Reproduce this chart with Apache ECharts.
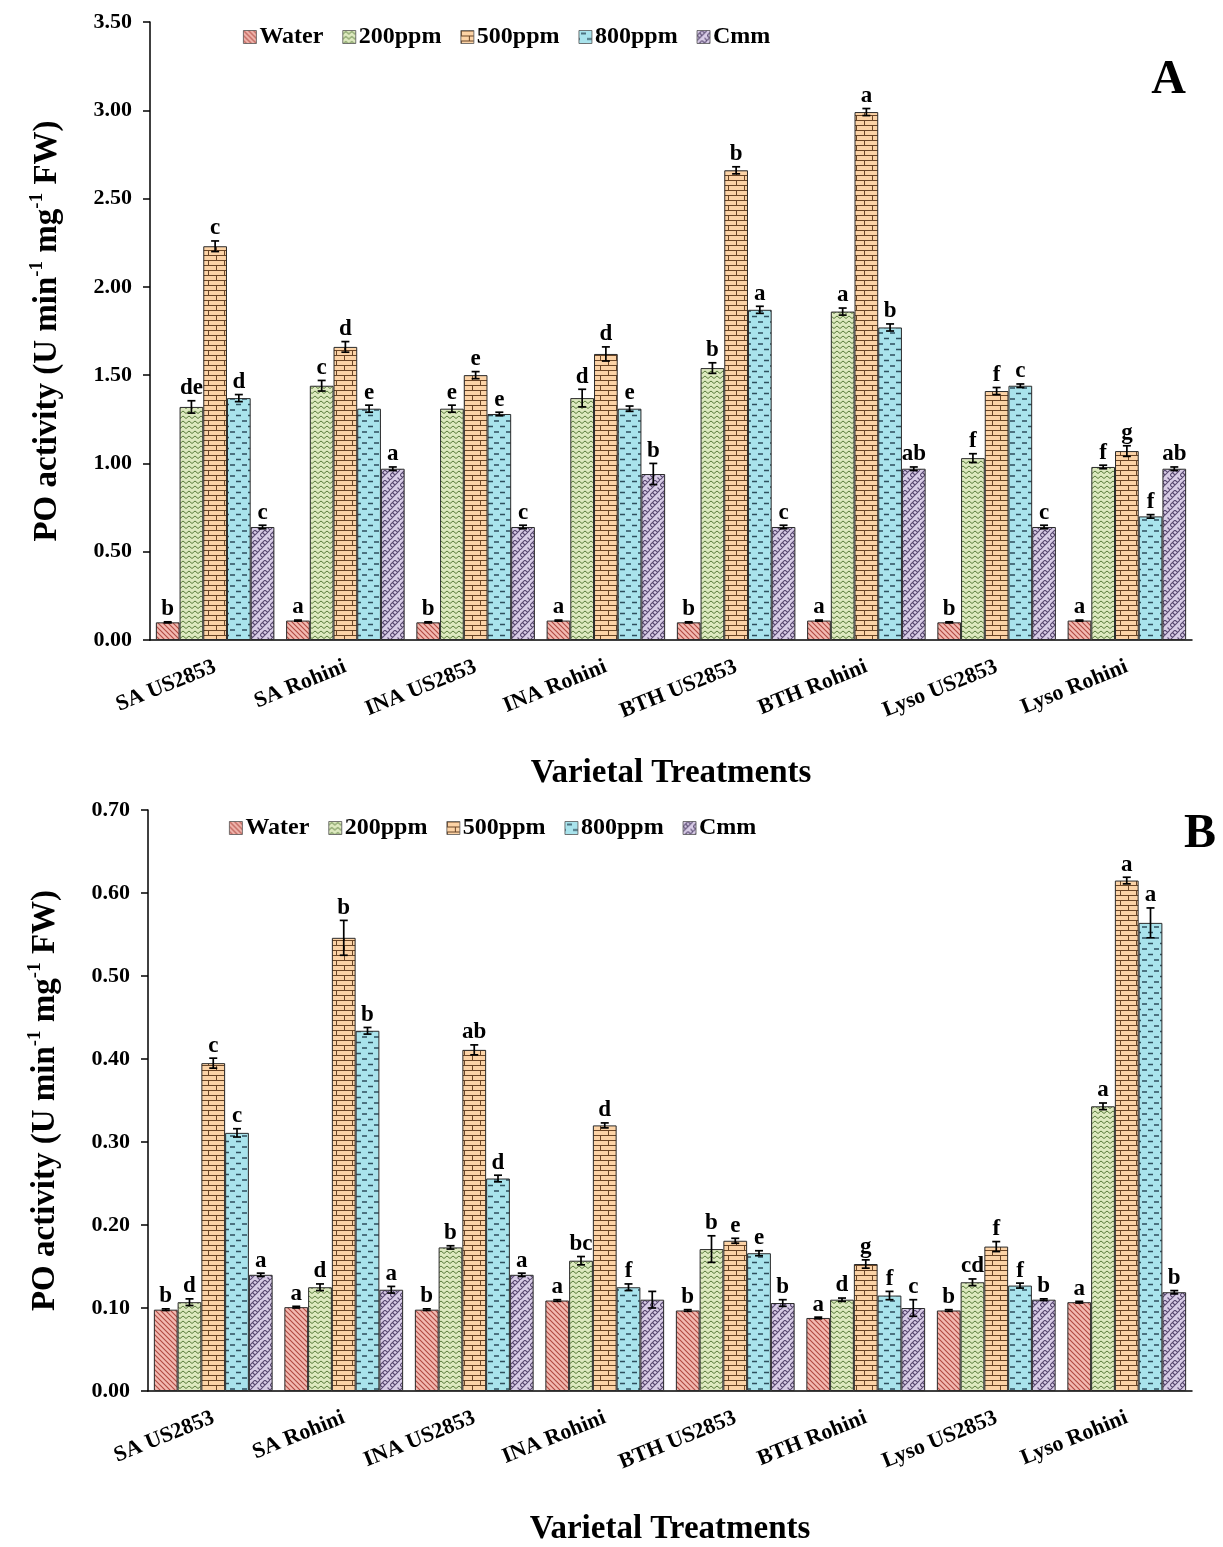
<!DOCTYPE html>
<html>
<head>
<meta charset="utf-8">
<script src="https://cdn.jsdelivr.net/npm/echarts@6/dist/echarts.min.js"></script>
<style>html,body{margin:0;padding:0;background:#fff}#c{width:1223px;height:1547px}</style>
</head>
<body>
<div id="c"></div>
<script>
const categories = ['SA US2853','SA Rohini','INA US2853','INA Rohini','BTH US2853','BTH Rohini','Lyso US2853','Lyso Rohini'];
const treatments = ['Water','200ppm','500ppm','800ppm','Cmm'];
const yTicksA = [0,3.5,0.5];
const yTicksB = [0,0.7,0.1];

// Panel A values
const A_water  = [0.10,0.11,0.10,0.11,0.10,0.11,0.10,0.11];
const A_200    = [1.32,1.44,1.31,1.37,1.54,1.86,1.03,0.98];
const A_500    = [2.23,1.66,1.50,1.62,2.66,2.99,1.41,1.07];
const A_800    = [1.37,1.31,1.28,1.31,1.87,1.77,1.44,0.70];
const A_cmm    = [0.64,0.97,0.64,0.94,0.64,0.97,0.64,0.97];
const A_water_err = [0.003,0.003,0.003,0.003,0.003,0.003,0.003,0.003];
const A_200_err   = [0.035,0.03,0.02,0.05,0.03,0.02,0.025,0.01];
const A_500_err   = [0.03,0.03,0.02,0.04,0.02,0.02,0.02,0.03];
const A_800_err   = [0.02,0.02,0.01,0.015,0.02,0.02,0.01,0.01];
const A_cmm_err   = [0.01,0.01,0.01,0.06,0.01,0.01,0.01,0.01];
const A_water_let = ['b','a','b','a','b','a','b','a'];
const A_200_let   = ['de','c','e','d','b','a','f','f'];
const A_500_let   = ['c','d','e','d','b','a','f','g'];
const A_800_let   = ['d','e','e','e','a','b','c','f'];
const A_cmm_let   = ['c','a','c','b','c','ab','c','ab'];

// Panel B values
const B_water  = [0.098,0.101,0.098,0.109,0.097,0.088,0.097,0.107];
const B_200    = [0.107,0.125,0.173,0.157,0.171,0.110,0.131,0.343];
const B_500    = [0.395,0.546,0.411,0.320,0.181,0.153,0.174,0.615];
const B_800    = [0.311,0.434,0.256,0.125,0.166,0.115,0.127,0.564];
const B_cmm    = [0.140,0.122,0.140,0.110,0.106,0.100,0.110,0.119];
const B_water_err = [0.001,0.001,0.001,0.001,0.001,0.001,0.001,0.001];
const B_200_err   = [0.004,0.004,0.002,0.005,0.016,0.002,0.004,0.004];
const B_500_err   = [0.006,0.021,0.006,0.003,0.003,0.005,0.006,0.004];
const B_800_err   = [0.005,0.004,0.004,0.004,0.003,0.005,0.003,0.018];
const B_cmm_err   = [0.002,0.004,0.002,0.010,0.004,0.010,0.001,0.002];
const B_water_let = ['b','a','b','a','b','a','b','a'];
const B_200_let   = ['d','d','b','bc','b','d','cd','a'];
const B_500_let   = ['c','b','ab','d','e','g','f','a'];
const B_800_let   = ['c','b','d','f','e','f','f','a'];
const B_cmm_let   = ['a','a','a','','b','c','b','b'];

const FONT = '"Liberation Serif","Times New Roman",serif';

function pat(fill, w, h, draw) {
  const c = document.createElement('canvas');
  c.width = w; c.height = h;
  const x = c.getContext('2d');
  x.fillStyle = fill; x.fillRect(0,0,w,h);
  draw(x);
  return {image: c, repeat: 'repeat'};
}
const patterns = [
  pat('#f3b9b1', 5, 5, x => { x.strokeStyle='#b04a42'; x.lineWidth=1.1;
    x.beginPath(); x.moveTo(-1,-1); x.lineTo(6,6); x.moveTo(-1,4); x.lineTo(1,6); x.moveTo(4,-1); x.lineTo(6,1); x.stroke(); }),
  pat('#dde9bf', 6, 5, x => { x.strokeStyle='#5a7c3c'; x.lineWidth=1;
    x.beginPath(); x.moveTo(0,3.5); x.lineTo(3,1); x.lineTo(6,3.5); x.stroke(); }),
  pat('#fcd3a6', 16, 10, x => { x.strokeStyle='#6a4526'; x.lineWidth=1;
    x.beginPath(); x.moveTo(0,0.5); x.lineTo(16,0.5); x.moveTo(0,5.5); x.lineTo(16,5.5);
    x.moveTo(0.5,0); x.lineTo(0.5,5.5); x.moveTo(8.5,5.5); x.lineTo(8.5,10); x.stroke(); }),
  pat('#a9e3ec', 12, 11, x => { x.strokeStyle='#2e4e5c'; x.lineWidth=1.4;
    x.beginPath(); x.moveTo(2,3); x.lineTo(7,3); x.moveTo(8,8.5); x.lineTo(12,8.5); x.moveTo(0,8.5); x.lineTo(1,8.5); x.stroke(); }),
  pat('#d8cce6', 10, 10, x => { x.strokeStyle='#5a4a72'; x.lineWidth=1.1;
    x.beginPath();
    x.moveTo(-1,11); x.lineTo(11,-1);
    x.moveTo(-1,6); x.lineTo(6,-1);
    x.moveTo(4,16); x.lineTo(16,4);
    x.moveTo(2.5,2.5); x.lineTo(5,5);
    x.moveTo(7.5,7.5); x.lineTo(10,10);
    x.moveTo(0,5); x.lineTo(2.5,7.5);
    x.moveTo(5,0); x.lineTo(7.5,2.5);
    x.stroke(); })
];

const A_vals = [A_water,A_200,A_500,A_800,A_cmm];
const A_errs = [A_water_err,A_200_err,A_500_err,A_800_err,A_cmm_err];
const A_lets = [A_water_let,A_200_let,A_500_let,A_800_let,A_cmm_let];
const B_vals = [B_water,B_200,B_500,B_800,B_cmm];
const B_errs = [B_water_err,B_200_err,B_500_err,B_800_err,B_cmm_err];
const B_lets = [B_water_let,B_200_let,B_500_let,B_800_let,B_cmm_let];

const GAP = 0.09;
const series = [];
function addPanel(idx, vals, errs, lets) {
  treatments.forEach((t, k) => {
    series.push({
      type: 'bar', name: t, xAxisIndex: idx, yAxisIndex: idx,
      data: vals[k], barGap: '0%', barCategoryGap: (GAP*100)+'%',
      itemStyle: {color: patterns[k], borderColor: '#2a2a2a', borderWidth: 1},
      emphasis: {disabled: true}, animation: false
    });
  });
  treatments.forEach((t, k) => {
    series.push({
      type: 'custom', name: 'err' + idx + k, xAxisIndex: idx, yAxisIndex: idx,
      data: vals[k].map((v, i) => [i, v, errs[k][i]]),
      z: 5, animation: false, silent: true,
      renderItem: function (params, api) {
        const i = api.value(0), v = api.value(1), e = api.value(2);
        const band = api.size([1, 0])[0];
        const bw = band * (1 - GAP) / 5;
        const off = (k - 2) * bw;
        const c = api.coord([i, v]);
        const top = api.coord([i, v + e]);
        const bot = api.coord([i, v - e]);
        const x = c[0] + off;
        const cap = 4;
        const lw = 1.7;
        const children = [
          {type: 'line', shape: {x1: x, y1: top[1], x2: x, y2: bot[1]}, style: {stroke: '#000', lineWidth: lw}},
          {type: 'line', shape: {x1: x - cap, y1: top[1], x2: x + cap, y2: top[1]}, style: {stroke: '#000', lineWidth: lw}},
          {type: 'line', shape: {x1: x - cap, y1: bot[1], x2: x + cap, y2: bot[1]}, style: {stroke: '#000', lineWidth: lw}},
          {type: 'text', style: {text: lets[k][params.dataIndex], x: x, y: top[1] - 1,
            textAlign: 'center', textVerticalAlign: 'bottom', font: 'bold 23px ' + FONT, fill: '#000'}}
        ];
        return {type: 'group', children: children};
      }
    });
  });
}
addPanel(0, A_vals, A_errs, A_lets);
addPanel(1, B_vals, B_errs, B_lets);

const yName = '{t|PO activity (U min}{s|-1}{t| mg}{s|-1}{t| FW)}';
const yNameStyle = {
  fontFamily: FONT, fontWeight: 'bold', color: '#000',
  rich: {
    t: {fontFamily: FONT, fontWeight: 'bold', fontSize: 33, color: '#000', lineHeight: 38, verticalAlign: 'bottom'},
    s: {fontFamily: FONT, fontWeight: 'bold', fontSize: 19, color: '#000', lineHeight: 38, verticalAlign: 'top', padding: [2, 0, 0, 0]}
  }
};
function xAxis(idx) {
  return {
    type: 'category', gridIndex: idx, data: categories,
    axisLine: {lineStyle: {color: '#000', width: 1.5}},
    axisTick: {length: 8, lineStyle: {color: '#000', width: 1.5}},
    axisLabel: {rotate: 22, interval: 0, fontFamily: FONT, fontWeight: 'bold', fontSize: 22, color: '#000', margin: 26},
    name: 'Varietal Treatments', nameLocation: 'middle', nameGap: idx === 0 ? 117 : 122,
    nameTextStyle: {fontFamily: FONT, fontWeight: 'bold', fontSize: 33, color: '#000'}
  };
}
function yAxis(idx, t) {
  return {
    type: 'value', gridIndex: idx, min: t[0], max: t[1], interval: t[2],
    axisLine: {show: true, lineStyle: {color: '#000', width: 1.5}},
    axisTick: {show: true, length: 7, lineStyle: {color: '#000', width: 1.5}},
    splitLine: {show: false},
    axisLabel: {formatter: v => v.toFixed(2), fontFamily: FONT, fontWeight: 'bold', fontSize: 22, color: '#000', margin: 18},
    name: yName, nameLocation: 'middle', nameGap: 86, nameTextStyle: yNameStyle
  };
}
function legend(idx, top, left) {
  return {
    data: treatments, top: top, left: left, itemWidth: 13, itemHeight: 13, itemGap: 19,
    icon: 'rect', selectedMode: false,
    textStyle: {fontFamily: FONT, fontWeight: 'bold', fontSize: 24, color: '#000', padding: [0,0,0,-2]},
    itemStyle: {borderColor: '#555', borderWidth: 0.8}
  };
}

const chart = echarts.init(document.getElementById('c'), null, {renderer: 'canvas'});
chart.setOption({
  backgroundColor: '#fff',
  animation: false,
  title: [
    {text: 'A', right: 32, top: 52, textStyle: {fontFamily: FONT, fontWeight: 'bold', fontSize: 48, color: '#000'}},
    {text: 'B', right: 2, top: 806, textStyle: {fontFamily: FONT, fontWeight: 'bold', fontSize: 48, color: '#000'}}
  ],
  legend: [legend(0, 20, 238), legend(1, 811, 224)],
  grid: [
    {left: 150, right: 31, top: 22, bottom: 907},
    {left: 148, right: 31, top: 810, bottom: 152}
  ],
  xAxis: [xAxis(0), xAxis(1)],
  yAxis: [yAxis(0, yTicksA), yAxis(1, yTicksB)],
  series: series
});
</script>
</body>
</html>
